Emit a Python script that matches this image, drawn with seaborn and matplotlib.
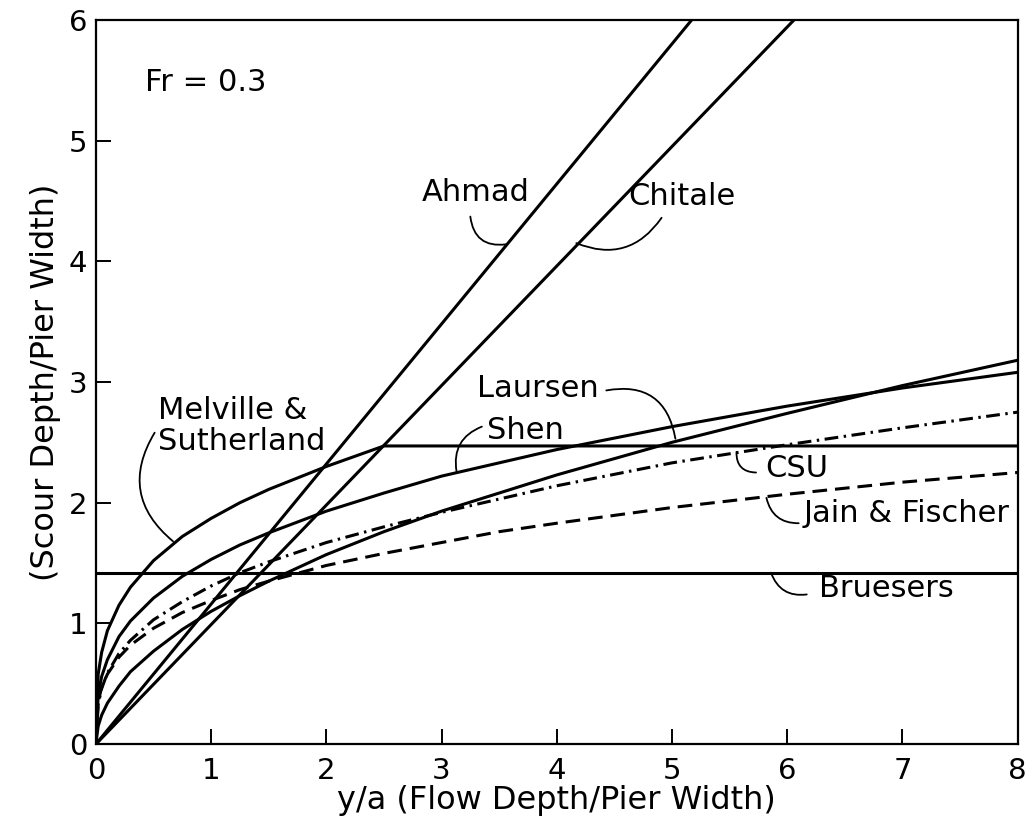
import matplotlib
matplotlib.use("Agg")
import matplotlib.pyplot as plt
import seaborn as sns
import pandas as pd

# ---------------- data ----------------
x_curve = [0, 0.02, 0.05, 0.1, 0.2, 0.3, 0.5, 0.75, 1.0, 1.25, 1.5, 2.0,
           2.5, 3.0, 3.5, 4.0, 5.0, 6.0, 7.0, 8.0]

melville = [0, 0.58, 0.76, 0.94, 1.15, 1.30, 1.52, 1.72, 1.87, 2.00, 2.11, 2.30,
            2.47, 2.47, 2.47, 2.47, 2.47, 2.47, 2.47, 2.47]
shen = [0, 0.41, 0.56, 0.70, 0.89, 1.02, 1.21, 1.39, 1.53, 1.65, 1.75, 1.93,
        2.08, 2.22, 2.33, 2.44, 2.63, 2.80, 2.95, 3.08]
laursen = [0, 0.15, 0.24, 0.34, 0.48, 0.60, 0.77, 0.95, 1.10, 1.23, 1.35, 1.57,
           1.76, 1.93, 2.08, 2.23, 2.50, 2.74, 2.97, 3.18]
csu = [0, 0.33, 0.46, 0.59, 0.75, 0.86, 1.03, 1.18, 1.31, 1.42, 1.51, 1.67,
       1.80, 1.92, 2.03, 2.14, 2.33, 2.48, 2.62, 2.75]
jain_fischer = [0, 0.35, 0.47, 0.58, 0.72, 0.82, 0.96, 1.09, 1.19, 1.28, 1.35, 1.48,
                1.58, 1.67, 1.76, 1.83, 1.96, 2.07, 2.17, 2.25]

x_ahmad = [0, 6.0]
ahmad = [0, 6.96]
x_chitale = [0, 7.0]
chitale = [0, 6.93]
x_bruesers = [0, 8.0]
bruesers = [1.42, 1.42]

# labels: (text, text position, leader start, leader end, rad)
labels = [
    ("Ahmad", (3.30, 4.57), (3.25, 4.37), (3.56, 4.14), 0.5),
    ("Chitale", (5.09, 4.54), (4.91, 4.36), (4.17, 4.15), -0.4),
    ("Laursen", (3.84, 2.95), (4.43, 2.93), (5.03, 2.53), -0.5),
    ("Shen", (3.73, 2.60), (3.35, 2.63), (3.13, 2.26), 0.4),
    ("CSU", (6.08, 2.28), (5.73, 2.25), (5.56, 2.42), -0.5),
    ("Jain & Fischer", (7.04, 1.91), (6.10, 1.83), (5.82, 2.04), -0.4),
    ("Bruesers", (6.86, 1.29), (6.17, 1.24), (5.86, 1.42), -0.4),
]

# ---------------- styling ----------------
sns.set_theme(style="white")
plt.rcParams["font.family"] = ["DejaVu Sans"]
plt.rcParams["xtick.direction"] = "in"
plt.rcParams["ytick.direction"] = "in"

fig = plt.figure(figsize=(10.31, 8.25), dpi=100)
ax = fig.add_axes([0.093, 0.098, 0.894, 0.878])

lw = 2.2
solid_series = [
    (x_curve, melville), (x_curve, shen), (x_curve, laursen),
    (x_ahmad, ahmad), (x_chitale, chitale), (x_bruesers, bruesers),
]
for xs, ys in solid_series:
    sns.lineplot(x=xs, y=ys, ax=ax, color="black", linewidth=lw,
                 estimator=None, sort=False)

sns.lineplot(x=x_curve, y=csu, ax=ax, color="black", linewidth=lw,
             estimator=None, sort=False, linestyle=(0, (4.5, 1.8, 0.8, 1.8)))
sns.lineplot(x=x_curve, y=jain_fischer, ax=ax, color="black", linewidth=lw,
             estimator=None, sort=False, linestyle=(0, (4.8, 2.6)))

ax.set_xlim(0, 8)
ax.set_ylim(0, 6)
ax.set_xticks(range(0, 9))
ax.set_yticks(range(0, 7))
ax.tick_params(axis="both", which="major", length=10.5, width=1.4,
               labelsize=21, color="black", labelcolor="black",
               top=False, right=False, left=True, bottom=True)
ax.tick_params(axis="y", pad=6)
ax.tick_params(axis="x", pad=9)
for sp in ax.spines.values():
    sp.set_color("black")
    sp.set_linewidth(1.6)

ax.set_xlabel("y/a (Flow Depth/Pier Width)", fontsize=23, color="black", labelpad=0)
ax.set_ylabel("(Scour Depth/Pier Width)", fontsize=23, color="black", labelpad=6)

tfs = 22
ax.text(0.43, 5.48, "Fr = 0.3", fontsize=tfs, ha="left", va="center", color="black")

ax.text(0.54, 2.635, "Melville &\nSutherland", fontsize=tfs, ha="left",
        va="center", color="black", linespacing=1.1)
ax.annotate("", xy=(0.67, 1.68), xytext=(0.51, 2.58),
            arrowprops=dict(arrowstyle="-", color="black", lw=1.3,
                            connectionstyle="arc3,rad=0.43",
                            shrinkA=0, shrinkB=0))

for txt, tpos, start, end, rad in labels:
    ax.text(tpos[0], tpos[1], txt, fontsize=tfs, ha="center", va="center",
            color="black")
    ax.annotate("", xy=end, xytext=start,
                arrowprops=dict(arrowstyle="-", color="black", lw=1.3,
                                connectionstyle=f"arc3,rad={rad}",
                                shrinkA=0, shrinkB=0))

fig.savefig("out.png", dpi=100, facecolor="white")
